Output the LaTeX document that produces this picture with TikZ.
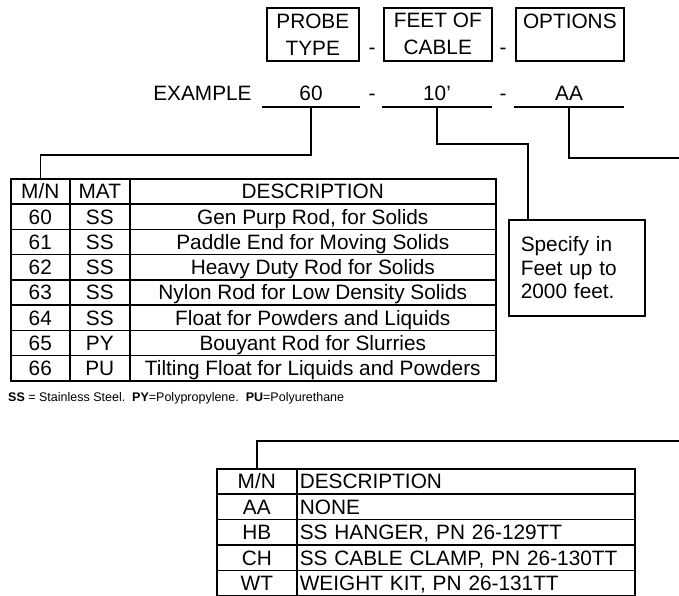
\documentclass[tikz,border=0pt]{standalone}
\usepackage{fontspec}
\setmainfont{Liberation Sans}
\usetikzlibrary{positioning}

\begin{document}
\begin{tikzpicture}[
  x=1pt, y=-1pt,
  font=\fontsize{20.8}{27}\selectfont,
  hdbox/.style={draw, line width=1.6pt, minimum width=#1, minimum height=53pt,
                inner sep=0pt, align=center, anchor=north west},
  field/.style={text height=15pt, text depth=6.5pt, inner sep=0pt},
  uline/.style={line width=2.2pt},
  cell/.style={draw, line width=1.6pt, minimum width=#1, minimum height=25.25pt,
               inner sep=0pt, text height=14.9pt, text depth=0pt, anchor=north west},
  lcell/.style={draw, line width=1.6pt, text width=#1, minimum height=25.4pt,
                inner ysep=0pt, inner xsep=3pt, align=left,
                text height=14.9pt, text depth=0pt, anchor=north west},
  link/.style={line width=1.6pt}
]
\useasboundingbox (0,0) rectangle (679,596);

% ---- header boxes ----
\node[hdbox=92pt]  (hprobe) at (266,7) {PROBE\\TYPE};
\node[hdbox=108pt] (hfeet)  at (383,7) {FEET OF\\CABLE};
\node[hdbox=108pt] (hopt)   at (515,7) {OPTIONS\\\phantom{TYPE}};
\node[anchor=base,inner sep=0pt] (hdash1) at (372,54.5) {-};
\node[anchor=base,inner sep=0pt] (hdash2) at (503,54.5) {-};

% ---- example line ----
\node[field, minimum width=98pt, anchor=south]  (f60) at (311,107) {60};
\node[field, minimum width=110pt, anchor=south] (f10) at (437,107) {10'};
\node[field, minimum width=110pt, anchor=south] (fAA) at (569,107) {AA};
\node[field, left=10pt of f60] (exlbl) {EXAMPLE};
\node[field, anchor=south] (fdash1) at (372,107) {-};
\node[field, anchor=south] (fdash2) at (503,107) {-};
\draw[uline] (f60.south west) -- (f60.south east);
\draw[uline] (f10.south west) -- (f10.south east);
\draw[uline] (fAA.south west) -- (fAA.south east);

% ---- probe type table ----
\node[cell=59pt]  (t1-mn)   at (10,178)  {M/N};
\node[cell=60pt]  (t1-mat)  at (69,178)  {MAT};
\node[cell=366pt] (t1-desc) at (129,178) {DESCRIPTION};
\foreach \mn/\mat/\desc [count=\r] in {
    60/SS/{Gen Purp Rod, for Solids},
    61/SS/Paddle End for Moving Solids,
    62/SS/Heavy Duty Rod for Solids,
    63/SS/Nylon Rod for Low Density Solids,
    64/SS/Float for Powders and Liquids,
    65/PY/Bouyant Rod for Slurries,
    66/PU/Tilting Float for Liquids and Powders} {
  \node[cell=59pt]  (t1-\r-mn)   at (10,{178+25.25*\r})  {\mn};
  \node[cell=60pt]  (t1-\r-mat)  at (69,{178+25.25*\r})  {\mat};
  \node[cell=366pt] (t1-\r-desc) at (129,{178+25.25*\r}) {\desc};
}
\node[anchor=base west, inner sep=0pt, font=\fontsize{12.5}{14}\selectfont] (note) at (8,401)
  {\textbf{SS} = Stainless Steel.\ \ \textbf{PY}=Polypropylene.\ \ \textbf{PU}=Polyurethane};

% ---- cable length box ----
\node[draw, line width=1.6pt, text width=112pt, inner xsep=12pt, minimum height=96pt,
      align=left, anchor=north west, font=\fontsize{20.8}{23.5}\selectfont] (spec) at (508,219)
  {Specify in\\Feet up to\\2000 feet.};

% ---- options table ----
\node[cell=80pt, minimum height=25.4pt] (t2-mn)   at (216,468) {M/N};
\node[lcell=332pt]                       (t2-desc) at (296,468) {DESCRIPTION};
\foreach \mn/\desc [count=\r] in {
    AA/NONE,
    HB/{SS HANGER, PN 26-129TT},
    CH/{SS CABLE CLAMP, PN 26-130TT},
    WT/{WEIGHT KIT, PN 26-131TT}} {
  \node[cell=80pt, minimum height=25.4pt] (t2-\r-mn)   at (216,{468+25.4*\r}) {\mn};
  \node[lcell=332pt]                       (t2-\r-desc) at (296,{468+25.4*\r}) {\desc};
}

% ---- leader lines ----
\coordinate (bend60) at (311,155);
\coordinate (bend10) at (528,144);
\coordinate (edgeA)  at (679,158);
\coordinate (edgeB)  at (679,441);
\draw[link] (f60.south) -- (bend60) -| (t1-mn.north);
\draw[link] (f10.south) |- (bend10) -- (bend10 |- spec.north);
\draw[link] (fAA.south) |- (edgeA);
\draw[link] (edgeB) -| (t2-mn.north);

\end{tikzpicture}
\end{document}
